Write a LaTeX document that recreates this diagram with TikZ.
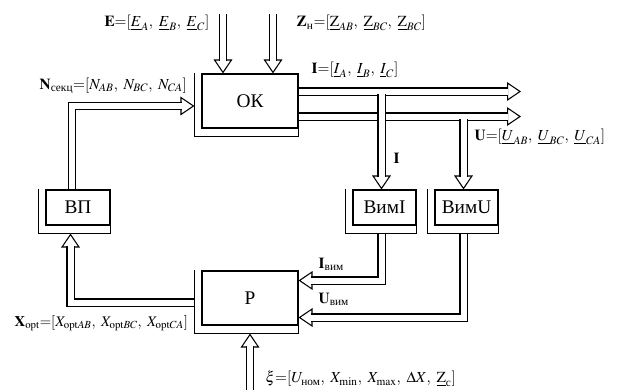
\documentclass[tikz,border=0pt]{standalone}
\usepackage{amsmath}
\usepackage{mathptmx}
\usepackage{fontspec}
\setmainfont{Liberation Serif}
\usetikzlibrary{arrows.meta,positioning}
\pgfdeclarelayer{bg}
\pgfsetlayers{bg,main}

\begin{document}
\begin{tikzpicture}[x=0.75pt,y=-0.75pt,
  font=\fontsize{11.5}{13}\selectfont,
  blk/.style={draw,fill=white,line width=0.8pt,inner sep=0pt,font=\fontsize{14.5}{16}\selectfont},
  dbl/.style={double,double distance=4.5pt,line width=0.8pt,
    -{Triangle[open,length=10.5pt,width=14pt,line width=0.8pt]},
    postaction={draw,double,double distance=4.5pt,line width=0.8pt,-,shorten >=9.5pt}}]
  \useasboundingbox (0,0) rectangle (619,390);
  % blocks
  \node[blk,minimum width=72pt,minimum height=40.5pt] (ok) at (250,101) {ОК};
  \node[blk,minimum width=72pt,minimum height=40.5pt] (r) at (250,298) {Р};
  \node[blk,minimum width=48pt,minimum height=26.25pt] (vp) at (78,207.5) {ВП};
  \node[blk,minimum width=47.25pt,minimum height=26.25pt] (vi) at (384.5,207.5) {ВимI};
  \node[blk,minimum width=47.25pt,minimum height=26.25pt] (vu) at (466.5,207.5) {ВимU};
  \foreach \b in {ok,r,vp,vi,vu} {
    \draw[line width=0.8pt] ([xshift=-5.25pt]\b.north west) |- ([yshift=-6pt]\b.south east) -- (\b.south east);
    \coordinate (\b w) at ([xshift=-5.25pt]\b.west);
    \coordinate (\b s) at ([yshift=-6pt]\b.south);
  }
  % bends and free ends
  \coordinate (ein) at (223,14);
  \coordinate (zin) at (273,14);
  \coordinate (iout) at (521,91.5);
  \coordinate (uout) at (521,116.5);
  \coordinate (ibr) at (381.5,94.3);
  \coordinate (ubr) at (463.5,119.3);
  \coordinate (nb) at (72,106);
  \coordinate (xb) at (70.5,302.5);
  \coordinate (ib) at (381.5,280.5);
  \coordinate (ub) at (463.5,317.5);
  \coordinate (xiin) at (250,390);
  % connectors
  \begin{pgfonlayer}{bg}
    \draw[dbl] (ein) -- (ok.north -| ein);
    \draw[dbl] (zin) -- (ok.north -| zin);
    \draw[dbl] (ok.east |- iout) -- (iout);
    \draw[dbl] (ok.east |- uout) -- (uout);
    \draw[dbl] (ibr) -- (vi.north -| ibr);
    \draw[dbl] (ubr) -- (vu.north -| ubr);
    \draw[dbl] (vp.north -| nb) -- (nb) -- (okw |- nb);
    \draw[dbl] (rw |- xb) -- (xb) -- (vps -| xb);
    \draw[dbl] (vis -| ib) -- (ib) -- (r.east |- ib);
    \draw[dbl] (vus -| ub) -- (ub) -- (r.east |- ub);
    \draw[dbl] (xiin) -- (rs -| xiin);
  \end{pgfonlayer}
  % labels
  \node[anchor=east] (elab) at (214,23) {$\mathbf{E}{=}[\underline{E}_{A},\ \underline{E}_{B},\ \underline{E}_{C}]$};
  \node[anchor=west] (zlab) at (292,23) {$\mathbf{Z}_{\text{н}}{=}[\underline{\mathrm{Z}}_{AB},\ \underline{\mathrm{Z}}_{BC},\ \underline{\mathrm{Z}}_{BC}]$};
  \node[anchor=west] (ilab) at (307,70) {$\mathbf{I}{=}[\underline{I}_{A},\ \underline{I}_{B},\ \underline{I}_{C}]$};
  \node[anchor=west] (nlab) at (35,86) {$\mathbf{N}_{\text{секц}}{=}[N_{AB},\ N_{BC},\ N_{CA}]$};
  \node[anchor=west] (ulab) at (470,137) {$\mathbf{U}{=}[\underline{U}_{AB},\ \underline{U}_{BC},\ \underline{U}_{CA}]$};
  \node[anchor=west] (ibl) at (389,158) {$\mathbf{I}$};
  \node[anchor=west] (ivl) at (314,264) {$\mathbf{I}_{\text{вим}}$};
  \node[anchor=west] (uvl) at (314,299) {$\mathbf{U}_{\text{вим}}$};
  \node[anchor=west,font=\fontsize{11}{13}\selectfont] (xlab) at (10,323) {$\mathbf{X}_{\mathrm{opt}}{=}[X_{\mathrm{opt}AB},\ X_{\mathrm{opt}BC},\ X_{\mathrm{opt}CA}]$};
  \node[anchor=west] (xilab) at (261,379) {$\xi{=}[U_{\text{ном}},\ X_{\min},\ X_{\max},\ \Delta X,\ \underline{\mathrm{Z}}_{\text{с}}]$};
\end{tikzpicture}
\end{document}
